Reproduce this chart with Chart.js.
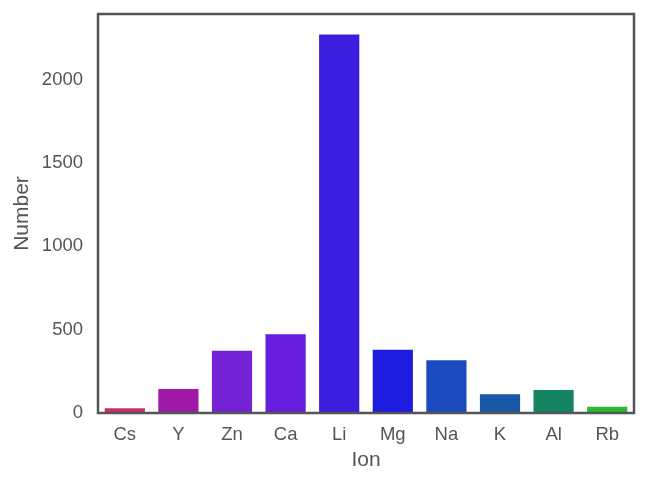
<!DOCTYPE html>
<html><head><meta charset="utf-8">
<script src="https://cdn.jsdelivr.net/npm/chart.js@4/dist/chart.umd.min.js"></script>
<style>html,body{margin:0;padding:0;background:#fff;overflow:hidden}#wrap{width:666px;height:479px}</style>
</head><body><div id="wrap"><canvas id="c" width="666" height="479"></canvas></div>
<script>
const categories = ["Cs","Y","Zn","Ca","Li","Mg","Na","K","Al","Rb"];
const counts = [28,144,374,472,2272,380,316,112,138,38];
const barColors = ["#d02a6e","#9e1aa6","#7322d6","#661ddc","#3b1ede","#1e1ddf","#1b4bbd","#1a57a6","#148463","#2db82d"];
const yTicks = [0,500,1000,1500,2000];

const frame = {
  id:'frame',
  afterDatasetsDraw(chart){
    const a = chart.chartArea, ctx = chart.ctx;
    ctx.save(); ctx.strokeStyle='#555'; ctx.lineWidth=2.5;
    ctx.strokeRect(a.left, a.top, a.right-a.left, a.bottom-a.top);
    ctx.restore();
  }
};
const font = {family:"'Liberation Sans', Arial, sans-serif", size:18.5};
const titleFont = {family:"'Liberation Sans', Arial, sans-serif", size:21};
new Chart(document.getElementById('c'), {
  type:'bar',
  data:{labels:categories, datasets:[{data:counts, backgroundColor:barColors, borderWidth:0, categoryPercentage:0.75, barPercentage:1}]},
  options:{
    responsive:false, animation:false,
    layout:{padding:{top:14,right:32,left:0,bottom:0}},
    plugins:{legend:{display:false}, tooltip:{enabled:false}},
    scales:{
      x:{grid:{display:false, drawTicks:false}, border:{display:false},
         ticks:{color:'#555', font, padding:11},
         title:{display:true, text:'Ion', color:'#555', font:titleFont, padding:{top:0,bottom:6}},
         afterFit(s){ s.height = 66; s.paddingLeft = 0; s.paddingRight = 0; }},
      y:{min:0, max:2395, grid:{display:false, drawTicks:false}, border:{display:false},
         ticks:{color:'#555', font, padding:15, callback:(v)=>String(v)},
         afterBuildTicks(s){ s.ticks = yTicks.map(v=>({value:v})); },
         title:{display:true, text:'Number', color:'#555', font:titleFont, padding:{top:10,bottom:0}},
         afterFit(s){ s.width = 98; s.paddingTop = 0; s.paddingBottom = 0; }}
    }
  },
  plugins:[frame]
});
</script></body></html>
